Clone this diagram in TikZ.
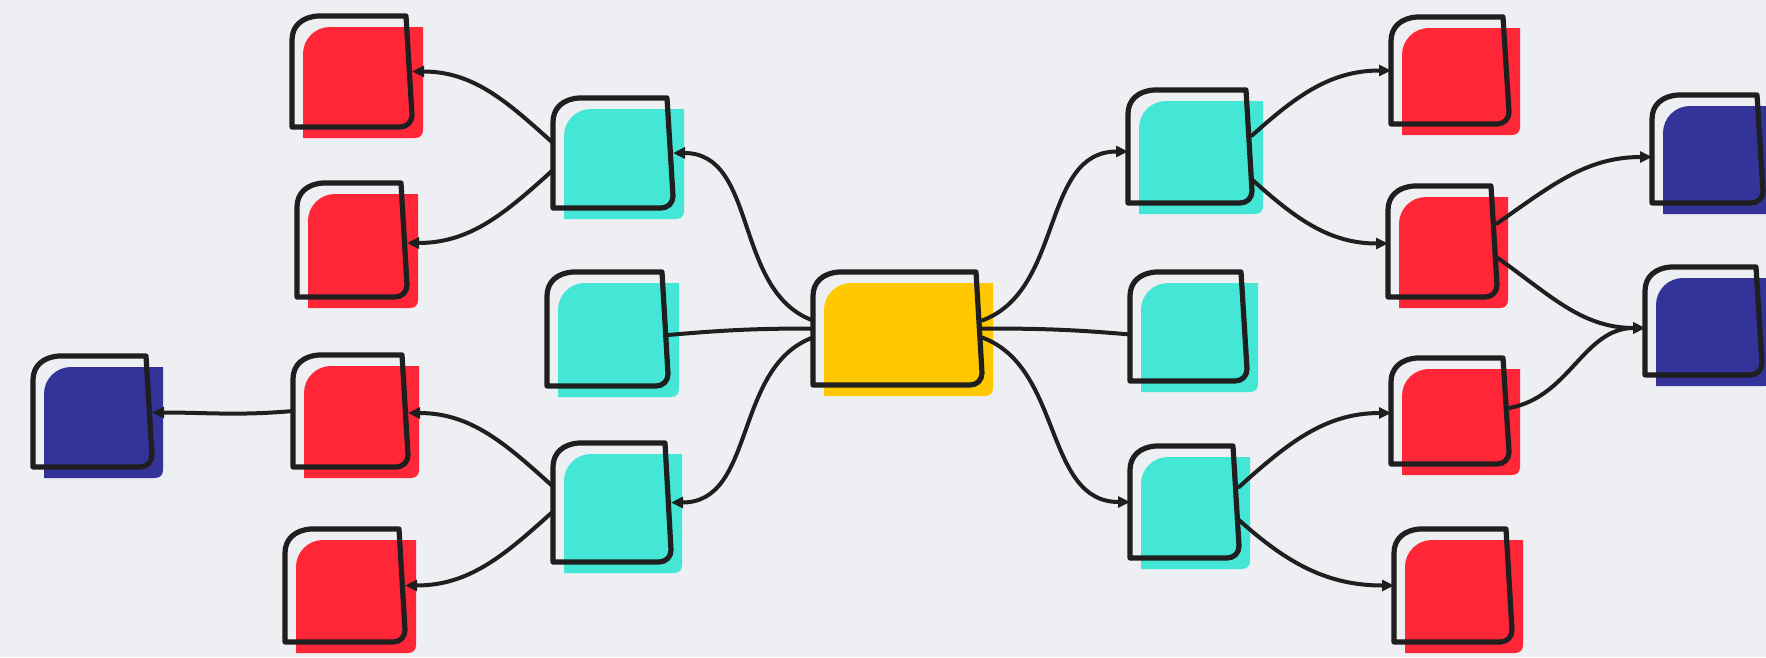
\documentclass[tikz,border=0pt]{standalone}
\usetikzlibrary{arrows.meta,calc}
\definecolor{bgc}{HTML}{EEEFF3}
\definecolor{ink}{HTML}{1F1F1F}
\definecolor{mmred}{HTML}{FF2638}
\definecolor{mmteal}{HTML}{44E6D6}
\definecolor{mmyellow}{HTML}{FFC800}
\definecolor{mmblue}{HTML}{333399}
\tikzset{
  anchorbox/.style={rectangle,inner sep=0pt,outer sep=0pt,draw=none},
  outline/.style={draw=ink,line width=5.2pt,line join=round,line cap=round},
  link/.style={draw=ink,line width=4pt,line cap=round},
  arrowlink/.style={link,-{Triangle[length=12pt,width=11pt]}},
}
% name, colour, x1, y1, x2, y2 (outline, pixel units, y downwards)
\newcommand\mmnode[6]{%
  \node[anchorbox,minimum width={(#5-#3)*1pt},minimum height={(#6-#4)*1pt}] (#1) at ({(#3+#5)/2},{(#4+#6)/2}) {};
  \fill[#2] ({#3+11},{#6+11}) -- ({#3+11},{#4+38}) .. controls ({#3+11},{#4+23}) and ({#3+23},{#4+11}) .. ({#3+38},{#4+11})
     -- ({#5+11},{#4+11}) -- ({#5+11},{#6+3}) .. controls ({#5+11},{#6+8}) and ({#5+8},{#6+11}) .. ({#5+3},{#6+11}) -- cycle;
  \draw[outline] ({#3},{#6}) -- ({#3},{#4+24}) .. controls ({#3},{#4+10}) and ({#3+10},{#4+1}) .. ({#3+26},{#4})
     -- ({#5-6},{#4}) -- ({#5},{#6-12}) .. controls ({#5},{#6-5}) and ({#5-5},{#6}) .. ({#5-12},{#6}) -- cycle;
}
\begin{document}
\begin{tikzpicture}[x=1pt,y=-1pt]
\fill[bgc] (0,0) rectangle (1766,657);
\useasboundingbox (0,0) rectangle (1766,657);
\clip (0,0) rectangle (1766,657);
% nodes
\mmnode{c}{mmyellow}{813}{272}{982}{385}
\mmnode{tl1}{mmteal}{553}{98}{673}{208}
\mmnode{tl2}{mmteal}{547}{272}{668}{386}
\mmnode{tl3}{mmteal}{553}{443}{671}{562}
\mmnode{rl1}{mmred}{292}{16}{412}{127}
\mmnode{rl2}{mmred}{297}{183}{407}{297}
\mmnode{rl3}{mmred}{293}{355}{408}{467}
\mmnode{bl}{mmblue}{33}{356}{152}{467}
\mmnode{rl4}{mmred}{285}{529}{405}{642}
\mmnode{tr1}{mmteal}{1128}{90}{1252}{203}
\mmnode{tr2}{mmteal}{1130}{272}{1247}{381}
\mmnode{tr3}{mmteal}{1130}{446}{1239}{558}
\mmnode{rr1}{mmred}{1391}{17}{1509}{124}
\mmnode{rr2}{mmred}{1388}{186}{1497}{297}
\mmnode{rr3}{mmred}{1391}{358}{1509}{464}
\mmnode{rr4}{mmred}{1394}{529}{1512}{642}
\mmnode{br1}{mmblue}{1652}{95}{1763}{203}
\mmnode{br2}{mmblue}{1645}{267}{1762}{375}
% connectors, left
\draw[arrowlink] ($(c.west)+(0,-8)$) to[out=160,in=0] (tl1.east);
\draw[link] (c.west) to[out=180,in=5] ($(tl2.east)+(0,6)$);
\draw[arrowlink] ($(c.west)+(0,9)$) to[out=200,in=0] (tl3.east);
\draw[arrowlink] ($(tl1.west)+(0,-10)$) to[out=138,in=0] (rl1.east);
\draw[arrowlink] ($(tl1.west)+(0,17)$) to[out=222,in=0] ($(rl2.east)+(0,3)$);
\draw[arrowlink] ($(tl3.west)+(0,-16)$) to[out=138,in=0] ($(rl3.east)+(0,2)$);
\draw[arrowlink] ($(tl3.west)+(0,9)$) to[out=222,in=0] (rl4.east);
\draw[arrowlink] (rl3.west) to[out=185,in=0] ($(bl.east)+(0,1)$);
% connectors, right
\draw[arrowlink] ($(c.east)+(0,-8)$) to[out=20,in=180] ($(tr1.west)+(0,5)$);
\draw[link] (c.east) to[out=0,in=175] ($(tr2.west)+(0,8)$);
\draw[arrowlink] ($(c.east)+(0,9)$) to[out=-20,in=180] (tr3.west);
\draw[arrowlink] ($(tr1.east)+(0,-11)$) to[out=42,in=180] (rr1.west);
\draw[arrowlink] ($(tr1.east)+(0,33)$) to[out=-42,in=180] ($(rr2.west)+(0,2)$);
\draw[arrowlink] ($(tr3.east)+(0,-15)$) to[out=42,in=180] ($(rr3.west)+(0,2)$);
\draw[arrowlink] ($(tr3.east)+(0,18)$) to[out=-42,in=180] (rr4.west);
\draw[arrowlink] ($(rr2.east)+(0,-18)$) to[out=35,in=180] ($(br1.west)+(0,8)$);
\draw[arrowlink] ($(rr2.east)+(0,16)$) to[out=-35,in=180] ($(br2.west)+(0,7)$);
\draw[arrowlink] ($(rr3.east)+(0,-3)$) to[out=10,in=180] ($(br2.west)+(0,7)$);
\end{tikzpicture}
\end{document}
